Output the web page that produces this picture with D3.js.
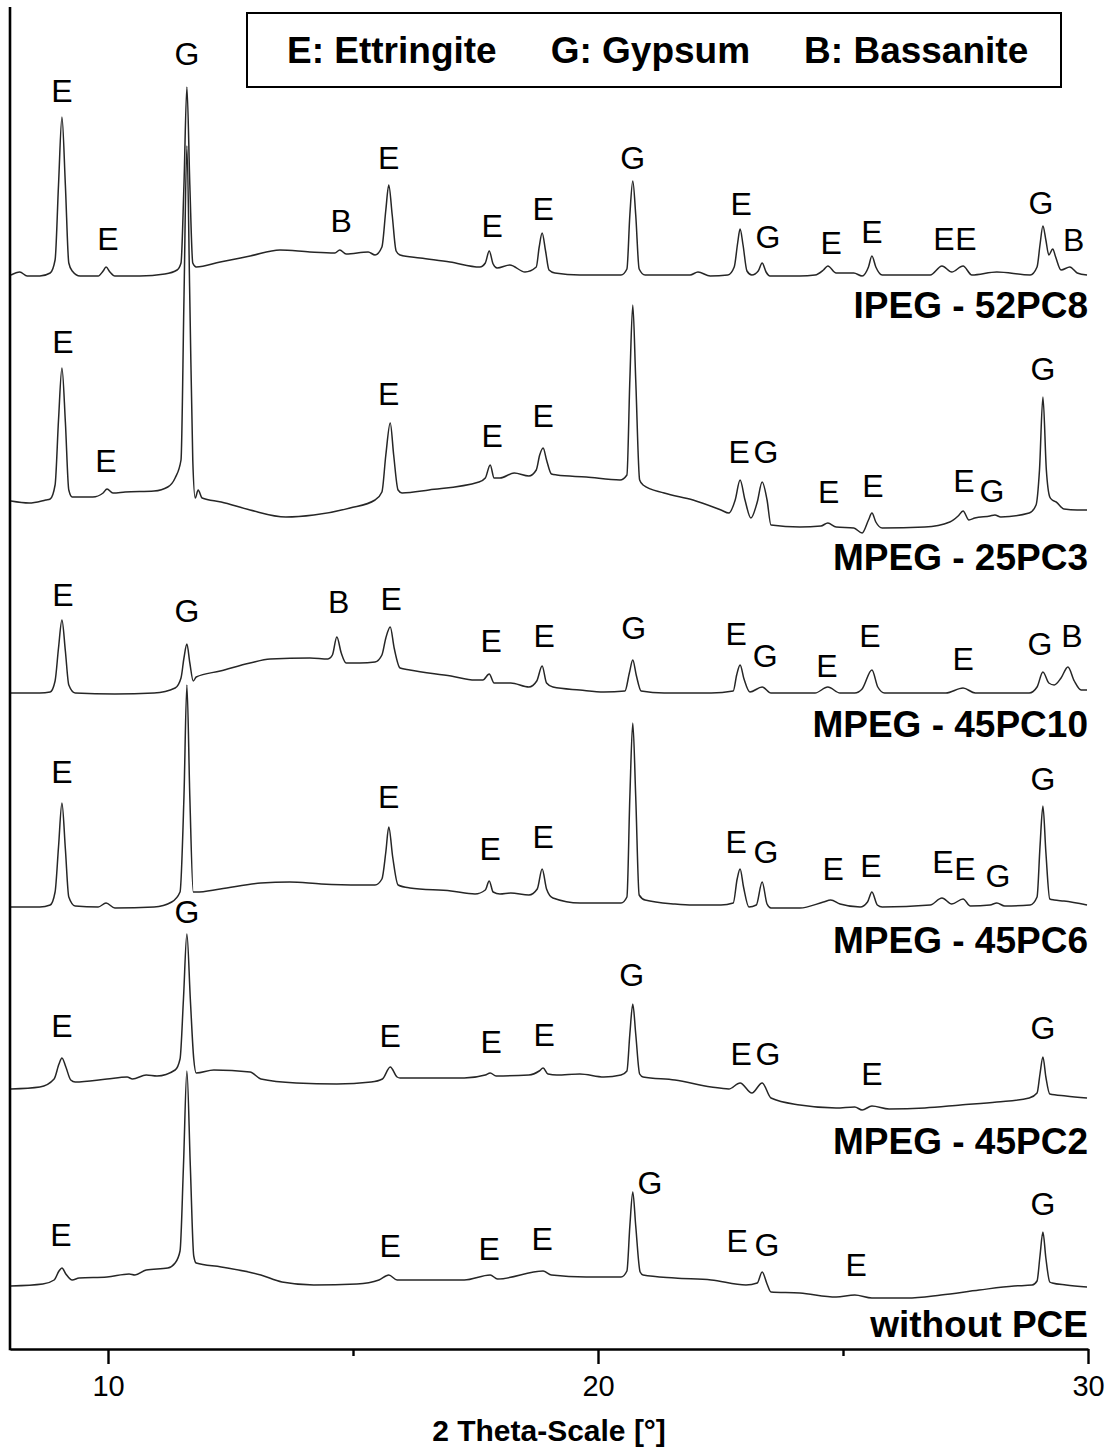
<!DOCTYPE html>
<html>
<head>
<meta charset="utf-8">
<script src="https://cdn.jsdelivr.net/npm/d3@7"></script>
<style>
  html, body { margin: 0; padding: 0; background: #fff; }
  svg { display: block; }
  text { font-family: "Liberation Sans", Arial, Helvetica, sans-serif; fill: #000; }
</style>
</head>
<body>
<svg id="chart" width="1112" height="1448"></svg>
<script>
// ---- axis setup -------------------------------------------------------
const thetaDomain = [8, 30];
const xTickValues = [10, 15, 20, 25, 30];
const xTickLabels = { 10: "10", 20: "20", 30: "30" };
const xAxisTitle = "2 Theta-Scale [°]";
const legendItems = ["E: Ettringite", "G: Gypsum", "B: Bassanite"];

// ---- diffractograms: [2θ (°), intensity above the pattern's own zero] ----
const ipeg52pc8 = [[8.02,0],[8.20,3],[8.35,-1],[8.61,-1],[8.82,2],[8.92,15],[8.99,90],[9.06,158],[9.13,90],[9.20,12],[9.27,4],[9.43,-1],[9.80,-1],[9.90,4],[9.96,8],[10.04,3],[10.14,-1],[10.65,-1],[11.16,1],[11.41,5],[11.49,12],[11.55,90],[11.61,188],[11.67,90],[11.73,12],[11.80,8],[12.29,13],[12.90,19],[13.51,25],[14.12,23],[14.63,22],[14.73,25],[14.86,21],[15.31,23],[15.45,20],[15.59,28],[15.67,65],[15.73,90],[15.80,60],[15.88,24],[15.96,20],[16.37,17],[16.98,13],[17.59,8],[17.70,12],[17.78,24],[17.86,11],[17.94,7],[18.20,10],[18.51,3],[18.74,8],[18.80,28],[18.86,42],[18.93,24],[19.00,5],[19.12,2],[19.63,0],[20.47,0],[20.59,6],[20.65,60],[20.71,94],[20.77,60],[20.84,6],[20.96,0],[21.88,0],[22.04,3],[22.29,-1],[22.65,0],[22.78,8],[22.85,32],[22.90,46],[22.96,30],[23.04,4],[23.14,0],[23.27,4],[23.35,12],[23.43,3],[23.51,-1],[24.12,-1],[24.43,0],[24.60,5],[24.69,9],[24.86,2],[25.22,2],[25.39,-1],[25.52,8],[25.59,19],[25.67,8],[25.80,0],[26.78,0],[27.02,9],[27.22,3],[27.45,9],[27.63,0],[28.14,3],[28.82,0],[28.96,8],[29.02,30],[29.08,49],[29.14,35],[29.20,20],[29.28,26],[29.34,18],[29.45,5],[29.63,8],[29.78,2],[29.98,0]];

const mpeg25pc3 = [[8.02,-1],[8.39,-3],[8.73,0],[8.82,1],[8.92,15],[8.99,80],[9.06,132],[9.13,78],[9.20,10],[9.27,3],[9.69,3],[9.90,7],[9.98,11],[10.10,7],[10.35,8],[10.94,9],[11.22,13],[11.37,22],[11.49,40],[11.55,200],[11.61,354],[11.67,200],[11.73,40],[11.78,2],[11.84,10],[11.92,2],[12.31,-2],[12.90,-10],[13.63,-17],[14.20,-15],[14.94,-8],[15.45,0],[15.59,8],[15.67,45],[15.76,77],[15.83,45],[15.92,10],[16.00,7],[16.55,10],[17.57,18],[17.70,22],[17.80,35],[17.88,22],[18.00,22],[18.29,27],[18.59,24],[18.74,30],[18.81,45],[18.88,52],[18.95,40],[19.05,26],[19.16,25],[19.76,23],[20.45,20],[20.59,25],[20.65,120],[20.71,195],[20.77,120],[20.85,20],[20.92,15],[21.35,7],[21.94,0],[22.51,-10],[22.67,-13],[22.80,0],[22.90,20],[23.00,0],[23.12,-18],[23.25,-2],[23.35,18],[23.45,0],[23.53,-25],[24.12,-27],[24.55,-26],[24.69,-23],[24.86,-27],[25.22,-28],[25.39,-33],[25.52,-20],[25.59,-13],[25.67,-22],[25.80,-28],[26.67,-27],[27.18,-22],[27.35,-16],[27.45,-11],[27.57,-20],[27.69,-18],[28.00,-16],[28.10,-15],[28.22,-17],[28.80,-13],[28.94,-5],[29.01,30],[29.08,103],[29.15,30],[29.22,3],[29.27,0],[29.35,-2],[29.51,-9],[29.78,-10],[29.98,-10]];

const mpeg45pc10 = [[8.02,0],[8.61,0],[8.82,1],[8.92,12],[8.99,45],[9.06,73],[9.13,42],[9.20,8],[9.33,0],[10.14,-1],[10.94,0],[11.37,5],[11.49,15],[11.55,35],[11.61,49],[11.67,30],[11.74,12],[11.80,16],[12.29,22],[12.90,30],[13.31,34],[14.12,35],[14.49,34],[14.58,38],[14.67,56],[14.76,40],[14.86,30],[15.14,30],[15.45,31],[15.59,38],[15.67,55],[15.76,66],[15.84,45],[15.96,25],[16.16,23],[17.00,17],[17.49,13],[17.65,13],[17.78,19],[17.88,10],[18.22,10],[18.59,6],[18.75,12],[18.86,27],[18.95,10],[19.08,6],[19.63,3],[20.12,1],[20.55,2],[20.64,20],[20.71,33],[20.78,18],[20.88,2],[21.35,0],[22.31,0],[22.76,2],[22.83,18],[22.90,28],[22.98,14],[23.10,1],[23.35,6],[23.53,0],[24.43,0],[24.69,6],[24.94,0],[25.24,0],[25.39,4],[25.59,23],[25.71,6],[25.85,0],[27.10,0],[27.45,5],[27.70,0],[28.80,0],[28.96,6],[29.08,21],[29.20,10],[29.31,8],[29.45,15],[29.59,26],[29.72,12],[29.86,3],[29.98,3]];

const mpeg45pc6 = [[8.02,0],[8.61,0],[8.82,2],[8.92,15],[8.99,60],[9.06,104],[9.13,58],[9.20,10],[9.33,1],[9.80,0],[9.96,4],[10.14,-1],[10.94,0],[11.30,5],[11.47,15],[11.55,110],[11.61,222],[11.67,110],[11.74,15],[11.80,15],[12.29,18],[13.12,24],[13.71,25],[14.35,23],[15.14,22],[15.45,22],[15.59,28],[15.67,55],[15.73,80],[15.81,50],[15.92,22],[16.16,19],[17.00,16],[17.49,13],[17.70,17],[17.78,26],[17.86,15],[18.00,13],[18.22,14],[18.59,12],[18.76,18],[18.86,38],[18.95,18],[19.08,9],[19.63,4],[20.47,4],[20.59,10],[20.65,110],[20.71,184],[20.77,110],[20.84,12],[20.96,7],[21.57,3],[21.94,2],[22.51,2],[22.76,4],[22.84,28],[22.90,38],[22.97,20],[23.08,0],[23.23,2],[23.35,25],[23.45,3],[23.53,-1],[24.12,-1],[24.60,5],[24.75,7],[24.94,3],[25.35,0],[25.50,5],[25.59,15],[25.70,2],[25.80,0],[26.78,2],[27.02,9],[27.22,3],[27.45,8],[27.60,1],[28.00,2],[28.14,4],[28.30,1],[28.82,2],[28.96,10],[29.02,60],[29.08,101],[29.14,55],[29.22,8],[29.31,7],[29.51,6],[29.98,2]];

const mpeg45pc2 = [[8.02,0],[8.61,2],[8.90,10],[9.00,25],[9.06,31],[9.14,22],[9.24,9],[9.33,7],[9.98,10],[10.39,12],[10.50,10],[10.78,14],[11.00,13],[11.37,19],[11.47,30],[11.54,90],[11.61,155],[11.68,90],[11.75,30],[11.80,16],[12.16,19],[12.90,17],[13.12,10],[13.84,6],[14.67,5],[15.37,7],[15.60,10],[15.76,22],[15.90,12],[15.96,11],[17.27,11],[17.70,14],[17.80,16],[17.92,13],[18.59,14],[18.80,18],[18.88,21],[18.98,15],[19.16,14],[19.63,15],[20.12,12],[20.47,14],[20.59,18],[20.65,55],[20.71,85],[20.77,55],[20.85,15],[20.92,12],[21.57,9],[22.31,2],[22.67,0],[22.90,6],[23.14,-4],[23.35,6],[23.53,-9],[24.12,-16],[24.86,-19],[25.24,-18],[25.39,-21],[25.59,-17],[25.94,-20],[26.67,-19],[27.40,-16],[28.14,-13],[28.80,-9],[28.96,-4],[29.02,15],[29.08,32],[29.14,12],[29.22,-5],[29.55,-7],[29.98,-9]];

const withoutPce = [[8.02,0],[8.67,2],[8.90,6],[9.00,15],[9.06,18],[9.14,12],[9.27,6],[9.41,8],[9.98,9],[10.43,12],[10.55,11],[10.78,16],[11.22,18],[11.37,23],[11.47,35],[11.54,120],[11.61,215],[11.68,120],[11.75,30],[11.80,23],[12.31,19],[13.12,11],[13.55,4],[14.20,1],[15.08,2],[15.53,6],[15.73,11],[15.90,6],[16.16,6],[17.27,6],[17.80,11],[17.95,7],[18.88,15],[19.05,11],[19.76,9],[20.47,9],[20.59,15],[20.65,60],[20.71,94],[20.77,60],[20.86,14],[20.92,11],[21.57,8],[22.31,6],[23.02,1],[23.25,3],[23.35,14],[23.45,2],[23.53,-6],[24.12,-7],[24.86,-11],[25.24,-9],[25.59,-12],[26.31,-12],[27.00,-9],[27.78,-4],[28.49,0],[28.86,1],[28.96,5],[29.02,30],[29.08,54],[29.14,28],[29.22,4],[29.27,3],[29.55,1],[29.98,-1]];

// ---- phase assignments: [phase letter, 2θ, height above pattern zero] ----
const labels52pc8 = [["E",9.06,173],["E",10.0,25],["G",11.61,210],["B",14.76,43],["E",15.73,106],["E",17.84,38],["E",18.88,55],["G",20.71,106],["E",22.92,60],["G",23.47,27],["E",24.76,21],["E",25.59,32],["E",27.06,25],["E",27.51,25],["G",29.04,61],["B",29.71,24]];
const labels25pc3 = [["E",9.08,147],["E",9.96,28],["E",15.73,95],["E",17.84,53],["E",18.88,73],["E",22.88,37],["G",23.43,37],["E",24.71,-3],["E",25.61,3],["E",27.47,8],["G",28.04,-2],["G",29.08,120]];
const labels45pc10 = [["E",9.08,87],["G",11.61,71],["B",14.71,80],["E",15.78,83],["E",17.82,41],["E",18.90,46],["G",20.73,54],["E",22.82,48],["G",23.41,26],["E",24.67,16],["E",25.55,46],["E",27.45,23],["G",29.02,38],["B",29.67,46]];
const labels45pc6 = [["E",9.06,124],["E",15.73,99],["E",17.80,47],["E",18.88,59],["E",22.82,54],["G",23.43,44],["E",24.80,27],["E",25.57,30],["E",27.04,34],["E",27.49,27],["G",28.16,20],["G",29.08,117]];
const labels45pc2 = [["E",9.06,52],["G",11.61,166],["E",15.76,42],["E",17.82,36],["E",18.90,43],["G",20.69,103],["E",22.92,24],["G",23.47,24],["E",25.59,4],["G",29.08,50]];
const labelsNoPce = [["E",9.04,40],["E",15.76,29],["E",17.78,26],["E",18.86,36],["G",21.06,92],["E",22.84,34],["G",23.45,30],["E",25.27,10],["G",29.08,71]];

// ---- samples, stacked from top to bottom ----
const sampleNames = ["IPEG - 52PC8", "MPEG - 25PC3", "MPEG - 45PC10", "MPEG - 45PC6", "MPEG - 45PC2", "without PCE"];
const sampleOffsets = [1074, 849, 656, 442, 260, 63];
const sampleNameLevels = [-43, -70, -44, -46, -65, -51];
const patterns = [ipeg52pc8, mpeg25pc3, mpeg45pc10, mpeg45pc6, mpeg45pc2, withoutPce];
const phaseLabels = [labels52pc8, labels25pc3, labels45pc10, labels45pc6, labels45pc2, labelsNoPce];

// ---- drawing ----
const svg = d3.select("#chart");
const plot = { left: 10, right: 1088, top: 9, bottom: 1349 };

const x = d3.scaleLinear().domain(thetaDomain).range([plot.left, plot.right]);
const y = d3.scaleLinear().domain([0, 1340]).range([plot.bottom, plot.top]);

const line = d3.line()
  .x(d => x(d[0]))
  .y(d => y(d[1]))
  .curve(d3.curveMonotoneX);

const samples = svg.append("g").attr("class", "samples")
  .selectAll("g")
  .data(sampleNames.map((name, i) => ({
    name, offset: sampleOffsets[i], nameLevel: sampleNameLevels[i],
    points: patterns[i], labels: phaseLabels[i]
  })))
  .join("g");

samples.append("path")
  .attr("fill", "none")
  .attr("stroke", "#262626")
  .attr("stroke-width", 1.5)
  .attr("stroke-linejoin", "round")
  .attr("d", s => line(s.points.map(p => [p[0], p[1] + s.offset])));

samples.selectAll("text.phase")
  .data(s => s.labels.map(l => ({ letter: l[0], theta: l[1], level: l[2] + s.offset })))
  .join("text")
  .attr("class", "phase")
  .attr("x", d => x(d.theta))
  .attr("y", d => y(d.level))
  .attr("text-anchor", "middle")
  .attr("font-size", 32)
  .text(d => d.letter);

samples.append("text")
  .attr("class", "sample-name")
  .attr("x", plot.right)
  .attr("y", s => y(s.offset + s.nameLevel))
  .attr("text-anchor", "end")
  .attr("font-size", 37)
  .attr("font-weight", "bold")
  .text(s => s.name);

// bottom axis with long labelled and short unlabelled ticks
const xAxis = d3.axisBottom(x)
  .tickValues(xTickValues)
  .tickFormat(d => xTickLabels[d] || "")
  .tickSize(15)
  .tickSizeOuter(0);

const gx = svg.append("g")
  .attr("transform", `translate(0,${plot.bottom})`)
  .call(xAxis);
gx.select(".domain").attr("stroke", "#000").attr("stroke-width", 2.6);
gx.selectAll(".tick line")
  .attr("stroke", "#000")
  .attr("stroke-width", 2.4)
  .attr("y2", d => xTickLabels[d] ? 15 : 7);
gx.selectAll(".tick text")
  .attr("y", 47)
  .attr("dy", null)
  .attr("font-size", 29)
  .attr("font-family", "'Liberation Sans', Arial, sans-serif")
  .attr("fill", "#000");

// left axis line only
const gy = svg.append("g")
  .attr("transform", `translate(${plot.left},0)`)
  .call(d3.axisLeft(y).tickValues([]).tickSizeOuter(0));
gy.select(".domain")
  .attr("stroke", "#000")
  .attr("stroke-width", 2.6)
  .attr("d", `M0,${plot.bottom + 1.3}V${y(1342)}`);

svg.append("text")
  .attr("x", (plot.left + plot.right) / 2)
  .attr("y", 1441)
  .attr("text-anchor", "middle")
  .attr("font-size", 30)
  .attr("font-weight", "bold")
  .text(xAxisTitle);

// legend of phase abbreviations
const legend = svg.append("g").attr("class", "legend");
legend.append("rect")
  .attr("x", 247).attr("y", 13)
  .attr("width", 814).attr("height", 74)
  .attr("fill", "#fff")
  .attr("stroke", "#000")
  .attr("stroke-width", 2);
let cursor = 287;
legendItems.forEach(item => {
  const t = legend.append("text")
    .attr("x", cursor).attr("y", 63)
    .attr("font-size", 37)
    .attr("font-weight", "bold")
    .text(item);
  cursor += t.node().getComputedTextLength() + 54;
});
</script>
</body>
</html>
